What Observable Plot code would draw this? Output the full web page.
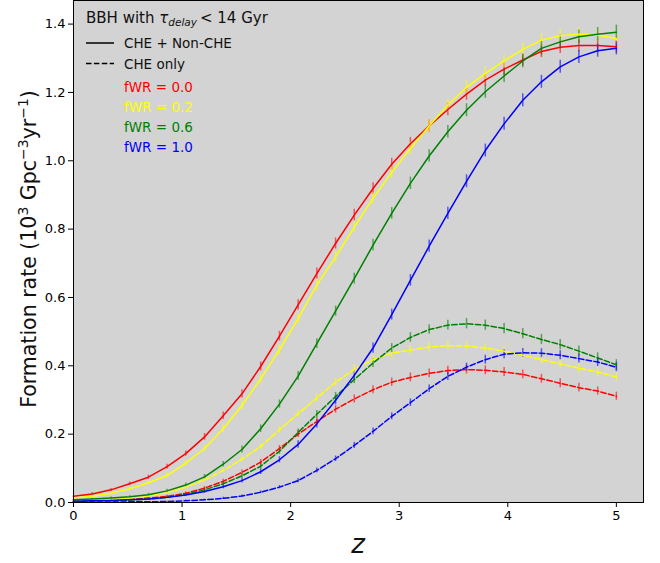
<!DOCTYPE html>
<html><head><meta charset="utf-8">
<script src="https://cdn.jsdelivr.net/npm/d3@7"></script>
<script src="https://cdn.jsdelivr.net/npm/@observablehq/plot@0.6"></script>
<style>
body{margin:0;background:#fff;}
#wrap{position:relative;width:660px;height:563px;font-family:"DejaVu Sans",sans-serif;}
#wrap > svg{display:block}
#ann{position:absolute;left:0;top:0;pointer-events:none;overflow:visible}
</style></head><body>
<div id="wrap"></div>
<script>
// redshift grid
const z = [0, 0.172, 0.345, 0.517, 0.690, 0.862, 1.034, 1.207, 1.379, 1.552, 1.724, 1.897, 2.069, 2.241, 2.414, 2.586, 2.759, 2.931, 3.103, 3.276, 3.448, 3.620, 3.793, 3.966, 4.138, 4.310, 4.483, 4.655, 4.828, 5.000];

// CHE + Non-CHE (solid)
const allF00 = [0.018,0.025,0.037,0.055,0.074,0.105,0.143,0.192,0.254,0.318,0.398,0.487,0.578,0.670,0.758,0.841,0.919,0.990,1.050,1.102,1.150,1.195,1.236,1.268,1.295,1.320,1.332,1.337,1.337,1.334];
const allF02 = [0.013,0.018,0.027,0.040,0.058,0.079,0.115,0.158,0.216,0.284,0.362,0.447,0.538,0.636,0.719,0.806,0.890,0.966,1.036,1.102,1.163,1.215,1.256,1.292,1.326,1.353,1.366,1.370,1.368,1.358];
const allF06 = [0.008,0.010,0.013,0.017,0.023,0.034,0.051,0.075,0.112,0.155,0.216,0.288,0.370,0.465,0.560,0.655,0.753,0.846,0.934,1.014,1.085,1.148,1.202,1.248,1.292,1.329,1.348,1.363,1.370,1.376];
const allF10 = [0.004,0.005,0.006,0.008,0.010,0.015,0.022,0.032,0.046,0.064,0.090,0.125,0.170,0.230,0.299,0.372,0.452,0.550,0.650,0.750,0.846,0.940,1.030,1.108,1.177,1.231,1.275,1.304,1.322,1.329];

// CHE only (dashed)
const cheF00 = [0.003,0.004,0.006,0.009,0.013,0.018,0.027,0.042,0.062,0.088,0.118,0.158,0.200,0.237,0.273,0.303,0.330,0.352,0.366,0.378,0.386,0.389,0.387,0.382,0.375,0.362,0.349,0.336,0.326,0.311];
const cheF02 = [0.006,0.007,0.009,0.013,0.019,0.029,0.045,0.066,0.094,0.127,0.164,0.213,0.260,0.306,0.352,0.390,0.418,0.437,0.446,0.455,0.459,0.458,0.452,0.443,0.431,0.418,0.406,0.393,0.382,0.367];
const cheF06 = [0.003,0.004,0.005,0.007,0.010,0.015,0.024,0.037,0.055,0.078,0.106,0.150,0.205,0.258,0.310,0.360,0.408,0.452,0.483,0.506,0.519,0.523,0.519,0.509,0.494,0.477,0.462,0.443,0.423,0.403];
const cheF10 = [0.001,0.001,0.001,0.002,0.002,0.003,0.005,0.008,0.012,0.019,0.030,0.045,0.064,0.094,0.128,0.167,0.208,0.252,0.292,0.333,0.369,0.396,0.418,0.434,0.438,0.437,0.431,0.421,0.411,0.396];

// error bar half-widths
const errAllF00 = [0.003,0.004,0.004,0.005,0.006,0.007,0.008,0.010,0.011,0.012,0.013,0.014,0.015,0.016,0.016,0.017,0.017,0.017,0.018,0.018,0.018,0.018,0.018,0.018,0.018,0.018,0.018,0.018,0.018,0.018];
const errAllF02 = [0.003,0.003,0.004,0.005,0.006,0.007,0.008,0.010,0.011,0.012,0.013,0.014,0.015,0.016,0.016,0.017,0.017,0.018,0.018,0.018,0.018,0.019,0.019,0.019,0.019,0.019,0.019,0.019,0.019,0.019];
const errAllF06 = [0.002,0.002,0.003,0.003,0.004,0.005,0.006,0.007,0.008,0.010,0.011,0.012,0.013,0.014,0.015,0.016,0.017,0.017,0.018,0.018,0.018,0.019,0.019,0.019,0.020,0.020,0.020,0.020,0.020,0.021];
const errAllF10 = [0.001,0.001,0.002,0.002,0.002,0.003,0.004,0.005,0.006,0.007,0.008,0.009,0.011,0.012,0.013,0.014,0.015,0.016,0.017,0.018,0.018,0.019,0.019,0.019,0.019,0.019,0.019,0.019,0.019,0.019];
const errCheF00 = [0.001,0.001,0.002,0.002,0.003,0.003,0.004,0.005,0.006,0.007,0.008,0.009,0.010,0.011,0.011,0.012,0.012,0.012,0.013,0.013,0.013,0.013,0.013,0.013,0.013,0.013,0.013,0.013,0.012,0.012];
const errCheF02 = [0.001,0.001,0.002,0.002,0.003,0.004,0.005,0.006,0.007,0.008,0.009,0.010,0.011,0.012,0.012,0.013,0.013,0.013,0.013,0.013,0.013,0.013,0.013,0.013,0.013,0.013,0.013,0.013,0.013,0.013];
const errCheF06 = [0.001,0.001,0.002,0.002,0.003,0.003,0.004,0.005,0.006,0.007,0.008,0.009,0.010,0.011,0.012,0.012,0.013,0.013,0.014,0.014,0.014,0.015,0.015,0.015,0.015,0.015,0.015,0.015,0.015,0.015];
const errCheF10 = [0.0005,0.0005,0.001,0.001,0.001,0.001,0.002,0.002,0.003,0.003,0.004,0.005,0.006,0.007,0.008,0.009,0.010,0.010,0.011,0.011,0.012,0.012,0.013,0.013,0.013,0.013,0.013,0.013,0.013,0.013];

const fwrLabels = ["fWR = 0.0", "fWR = 0.2", "fWR = 0.6", "fWR = 1.0"];
const fwrColors = ["#ff0000", "#ffff00", "#008000", "#0000ff"];
const xTicks = [0, 1, 2, 3, 4, 5];
const yTicks = [0.0, 0.2, 0.4, 0.6, 0.8, 1.0, 1.2, 1.4];

const series = [
  {kind: "all", i: 0, vals: allF00, err: errAllF00},
  {kind: "all", i: 1, vals: allF02, err: errAllF02},
  {kind: "all", i: 2, vals: allF06, err: errAllF06},
  {kind: "all", i: 3, vals: allF10, err: errAllF10},
  {kind: "che", i: 0, vals: cheF00, err: errCheF00},
  {kind: "che", i: 1, vals: cheF02, err: errCheF02},
  {kind: "che", i: 2, vals: cheF06, err: errCheF06},
  {kind: "che", i: 3, vals: cheF10, err: errCheF10}
];
const rows = [];
for (const s of series) {
  z.forEach((zz, j) => rows.push({z: zz, v: s.vals[j], e: s.err[j], id: s.kind + s.i, kind: s.kind, color: fwrColors[s.i]}));
}
const solid = rows.filter(r => r.kind === "all");
const dashed = rows.filter(r => r.kind === "che");

const chart = Plot.plot({
  width: 660, height: 563,
  marginLeft: 73, marginRight: 17, marginTop: 0, marginBottom: 61,
  style: {fontFamily: "DejaVu Sans", fontSize: "13px", color: "black", background: "white"},
  x: {domain: [0, 5.25]},
  y: {domain: [0, 1.469]},
  color: {type: "identity"},
  marks: [
    Plot.frame({fill: "#d3d3d3"}),
    Plot.ruleX(rows, {x: "z", y1: d => d.v - d.e, y2: d => d.v + d.e, stroke: "color", strokeOpacity: 0.6, strokeWidth: 1.5}),
    Plot.line(dashed, {x: "z", y: "v", z: "id", stroke: "color", strokeWidth: 1.5, strokeDasharray: "5.5,2.4"}),
    Plot.line(solid, {x: "z", y: "v", z: "id", stroke: "color", strokeWidth: 1.5}),
    Plot.axisX({ticks: xTicks, tickSize: 5, tickPadding: 3, tickFormat: d => String(d), label: null}),
    Plot.axisY({ticks: yTicks, tickSize: 5, tickPadding: 3, tickFormat: d => d.toFixed(1), label: null}),
    Plot.frame({stroke: "black", strokeWidth: 1})
  ]
});
const wrap = document.getElementById("wrap");
wrap.appendChild(chart);

// annotations: legend, axis titles
const NS = "http://www.w3.org/2000/svg";
const ann = document.createElementNS(NS, "svg");
ann.setAttribute("id", "ann");
ann.setAttribute("width", 660);
ann.setAttribute("height", 563);
ann.setAttribute("font-family", "DejaVu Sans, sans-serif");
let html = "";
html += `<text x="86" y="23" font-size="15" fill="#111">BBH with <tspan font-style="italic">τ</tspan><tspan font-style="italic" font-size="10.5" dy="3">delay</tspan><tspan dy="-3" dx="3">&lt; 14 Gyr</tspan></text>`;
html += `<line x1="86" x2="114" y1="43" y2="43" stroke="black" stroke-width="1.5"/>`;
html += `<line x1="86" x2="114" y1="63.5" y2="63.5" stroke="black" stroke-width="1.5" stroke-dasharray="5.5,2.4"/>`;
html += `<text x="124" y="48" font-size="13.5" fill="#111">CHE + Non-CHE</text>`;
html += `<text x="124" y="69" font-size="13.5" fill="#111">CHE only</text>`;
fwrLabels.forEach((t, k) => {
  html += `<text x="124" y="${91.5 + 20 * k}" font-size="13.5" fill="${fwrColors[k]}">${t}</text>`;
});
html += `<text transform="translate(36,249) rotate(-90)" text-anchor="middle" font-size="20.5" fill="#111">Formation rate (10<tspan font-size="14" dy="-8">3</tspan><tspan dy="8"> Gpc</tspan><tspan font-size="14" dy="-8">−3</tspan><tspan dy="8">yr</tspan><tspan font-size="14" dy="-8">−1</tspan><tspan dy="8">)</tspan></text>`;
html += `<text x="358" y="553" text-anchor="middle" font-size="26" font-style="italic" fill="#111">z</text>`;
ann.innerHTML = html;
wrap.appendChild(ann);
</script>
</body></html>
